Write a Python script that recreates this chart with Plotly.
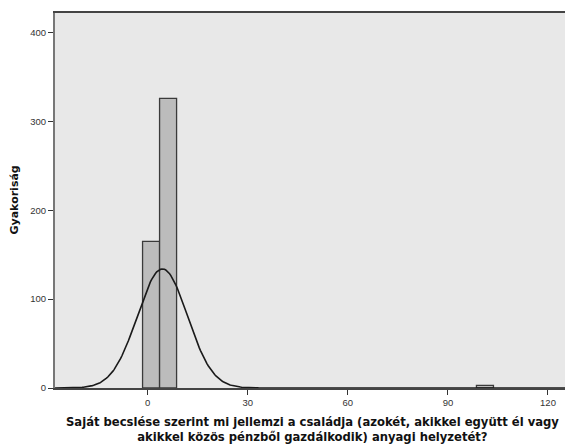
import math
import plotly.graph_objects as go

# Histogram bins (centres), counts and bin width
bin_centers = [1.0, 6.1, 101.1]
bin_counts = [165, 326, 3]
bin_width = 5.1

# Fitted normal curve parameters
curve_mean = 4.4
curve_sd = 7.5

x_ticks = [0, 30, 60, 90, 120]
y_ticks = [0, 100, 200, 300, 400]

x_title_lines = [
    "Saját becslése szerint mi jellemzi a családja (azokét, akikkel együtt él vagy",
    "akikkel közös pénzből gazdálkodik) anyagi helyzetét?",
]
y_title = "Gyakoriság"

n_total = sum(bin_counts)
x_lo, x_hi = -27.8, 126.6
steps = 400
curve_x = [x_lo + (x_hi - x_lo) * i / steps for i in range(steps + 1)]
curve_y = [n_total * bin_width / (curve_sd * math.sqrt(2 * math.pi)) *
           math.exp(-0.5 * ((v - curve_mean) / curve_sd) ** 2) for v in curve_x]

fig = go.Figure()
fig.add_trace(go.Bar(
    x=bin_centers, y=bin_counts, width=[bin_width] * len(bin_centers),
    marker=dict(color="#bcbcbc", line=dict(color="#3a3a3a", width=1.3)),
    showlegend=False,
))
fig.add_trace(go.Scatter(
    x=curve_x, y=curve_y, mode="lines",
    line=dict(color="#1a1a1a", width=1.6), showlegend=False,
))

title_font = dict(family="DejaVu Sans, sans-serif", size=11.6, color="#111")
annotations = [
    dict(text="<b>%s</b>" % "<br>".join(x_title_lines), xref="paper", yref="paper",
         x=0.5, y=0, xanchor="center", yanchor="middle", yshift=-41.5,
         align="center", showarrow=False, font=title_font),
    dict(text="<b>%s</b>" % y_title, xref="paper", yref="paper",
         x=0, y=0.5, xanchor="center", yanchor="middle", xshift=-41,
         textangle=-90, showarrow=False,
         font=dict(family="DejaVu Sans, sans-serif", size=11, color="#111")),
]

fig.update_layout(
    width=565, height=437,
    margin=dict(l=47, r=1, t=5, b=56.5),
    paper_bgcolor="white",
    plot_bgcolor="#e8e8e8",
    font=dict(family="Liberation Sans, Arial, sans-serif", size=10, color="#222"),
    annotations=annotations,
    xaxis=dict(
        range=[x_lo, x_hi], tickvals=x_ticks, ticks="outside", ticklen=5,
        tickcolor="#333", tickwidth=1, showgrid=False, zeroline=False,
        showline=True, linecolor="#444", linewidth=2, mirror=True,
        tickfont=dict(size=9.5, color="#333"),
    ),
    yaxis=dict(
        range=[0, 422], tickvals=y_ticks, ticks="outside", ticklen=5,
        tickcolor="#333", tickwidth=1, showgrid=False, zeroline=False,
        showline=True, linecolor="#777", linewidth=2, mirror=True,
        tickfont=dict(size=9.5, color="#333"),
    ),
)

fig.write_html("out.html")
